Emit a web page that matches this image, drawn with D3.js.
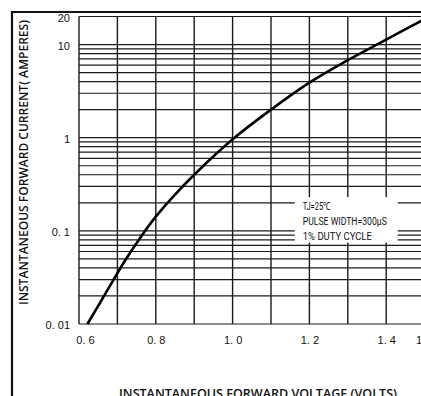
<!DOCTYPE html>
<html lang="en">
<head>
    <meta charset="UTF-8">
    <title>Forward Voltage vs Forward Current</title>
    <script src="https://d3js.org/d3.v7.min.js"></script>
    <style>
        body { margin: 0; background: #fff; }
        svg { display: block; }
        .tick-label { font-family: "Liberation Sans", Arial, sans-serif; font-size: 11px; fill: #111; }
        .title { font-family: "Open Sans", sans-serif; font-weight: 600; font-size: 12.5px; fill: #111; }
        .note { font-family: Roboto, sans-serif; font-size: 11px; fill: #111; }
    </style>
</head>
<body>
    <svg width="421" height="396"></svg>
    <script>
        // values
        const voltage = [0.622, 0.662, 0.72, 0.76, 0.80, 0.85, 0.90, 1.0, 1.1, 1.2, 1.3, 1.4, 1.5];
        const current = [0.01, 0.019, 0.048, 0.085, 0.142, 0.245, 0.40, 0.96, 2.0, 3.9, 6.8, 11.3, 18.8];

        const xTicks = [0.6, 0.8, 1.0, 1.2, 1.4, 1.5];
        const xTickLabels = ["0. 6", "0. 8", "1. 0", "1. 2", "1. 4", "1. 5"];
        const yTicks = [0.01, 0.1, 1, 10, 20];
        const yTickLabels = ["0. 01", "0. 1", "1", "10", "20"];
        const decades = [0.01, 0.1, 1];
        const noteLines = ["TJ=25\u2103", "PULSE WIDTH=300\u03bcS", "1% DUTY CYCLE"];

        const W = 421, H = 396;
        const svg = d3.select("svg");

        const x = d3.scaleLinear().domain([0.6, 1.5]).range([79, 424.6]);
        const y = d3.scaleLog().domain([0.01, 20]).range([324, 16.5]);

        // outer frame (left + top)
        svg.append("path")
            .attr("d", `M12,${H} L12,12 L${W},12`)
            .attr("fill", "none")
            .attr("stroke", "#111")
            .attr("stroke-width", 2.2);

        // grid
        const hLines = [];
        decades.forEach(d => { for (let k = 1; k <= 9; k++) hLines.push(d * k); });
        hLines.push(10, 20);
        const vLines = d3.range(6, 16).map(d => d / 10);

        const grid = svg.append("g").attr("stroke", "#1a1a1a").attr("stroke-width", 1.2);
        grid.selectAll(".h").data(hLines).enter().append("line")
            .attr("x1", x(0.6)).attr("x2", W)
            .attr("y1", d => y(d)).attr("y2", d => y(d));
        grid.selectAll(".v").data(vLines).enter().append("line")
            .attr("x1", d => x(d)).attr("x2", d => x(d))
            .attr("y1", y(20)).attr("y2", y(0.01))
            .attr("stroke-width", 1.4);

        // note box hides the grid behind the text
        const noteX = x(1.162), noteY = y(0.23);
        svg.append("rect")
            .attr("x", noteX).attr("y", noteY)
            .attr("width", x(1.43) - x(1.162)).attr("height", y(0.075) - y(0.23))
            .attr("fill", "#fff");
        const noteWidths = [28, 84, 69];
        svg.selectAll(".note").data(noteLines).enter().append("text")
            .attr("class", "note")
            .attr("x", noteX + 8)
            .attr("y", (d, i) => noteY + 13 + i * 15)
            .attr("textLength", (d, i) => noteWidths[i])
            .attr("lengthAdjust", "spacingAndGlyphs")
            .text(d => d);

        // curve
        const pts = voltage.map((v, i) => [v, current[i]]);
        svg.append("path")
            .datum(pts)
            .attr("fill", "none")
            .attr("stroke", "#000")
            .attr("stroke-width", 2.6)
            .attr("d", d3.line().x(d => x(d[0])).y(d => y(d[1])).curve(d3.curveCatmullRom));

        // tick labels via axes
        const yAxis = svg.append("g")
            .attr("transform", `translate(${x(0.6)},0)`)
            .call(d3.axisLeft(y).tickValues(yTicks).tickSize(0).tickPadding(9)
                .tickFormat((d, i) => yTickLabels[i]));
        const xAxis = svg.append("g")
            .attr("transform", `translate(0,${y(0.01)})`)
            .call(d3.axisBottom(x).tickValues(xTicks).tickSize(0).tickPadding(12.5)
                .tickFormat((d, i) => xTickLabels[i]));
        [yAxis, xAxis].forEach(a => {
            a.select(".domain").remove();
            a.selectAll("text").attr("class", "tick-label").attr("font-family", null).attr("font-size", null);
        });
        yAxis.selectAll("text").attr("dy", "0.42em");
        xAxis.select(".tick text").attr("dx", 6);

        // axis titles
        svg.append("text")
            .attr("class", "title")
            .attr("x", 258).attr("y", 397.5)
            .attr("text-anchor", "middle")
            .attr("textLength", 278)
            .attr("lengthAdjust", "spacingAndGlyphs")
            .text("INSTANTANEOUS FORWARD VOLTAGE (VOLTS)");
        svg.append("text")
            .attr("class", "title")
            .attr("transform", "translate(27.5,162.5) rotate(-90)")
            .attr("text-anchor", "middle")
            .attr("textLength", 285)
            .attr("lengthAdjust", "spacingAndGlyphs")
            .text("INSTANTANEOUS FORWARD CURRENT( AMPERES)");
    </script>
</body>
</html>
